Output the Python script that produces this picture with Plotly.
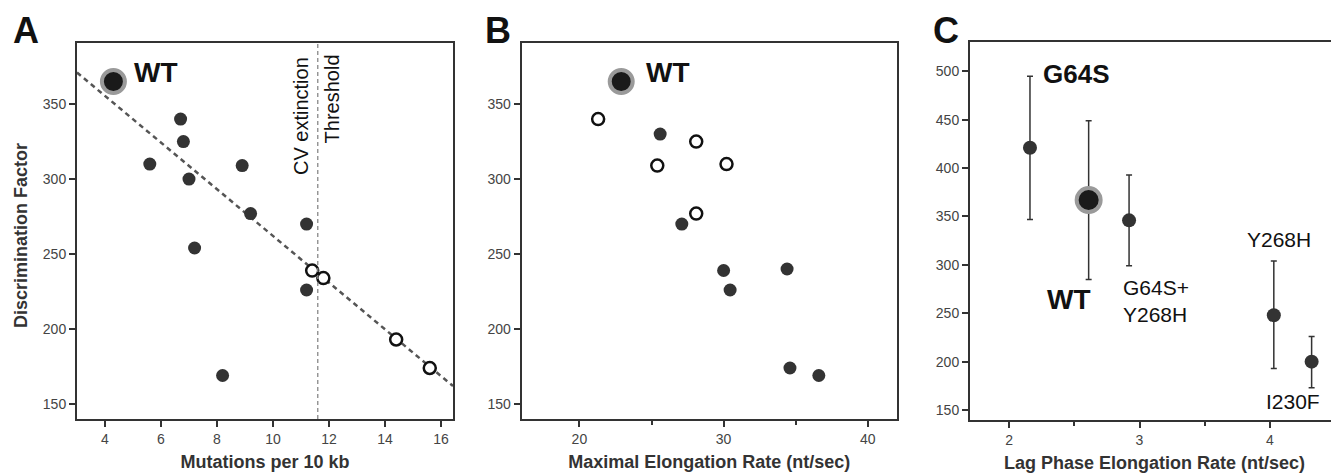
import plotly.graph_objects as go

# Panel A: mutations per 10 kb vs discrimination factor
mut_filled_x = [6.7, 6.8, 5.6, 7.0, 8.9, 9.2, 7.2, 11.2, 11.2, 8.2]
mut_filled_y = [340, 325, 310, 300, 309, 277, 254, 270, 226, 169]
mut_open_x = [11.4, 11.8, 14.4, 15.6]
mut_open_y = [239, 234, 193, 174]
wt_mut = 4.3
wt_df = 365
fit_x = [3.0, 16.43]
fit_y = [371, 162]
threshold = 11.6

# Panel B: maximal elongation rate vs discrimination factor
rate_filled_x = [25.6, 27.1, 30.0, 34.4, 30.45, 34.6, 36.6]
rate_filled_y = [330, 270, 239, 240, 226, 174, 169]
rate_open_x = [21.3, 28.1, 25.4, 30.2, 28.1]
rate_open_y = [340, 325, 309, 310, 277]
wt_rate = 22.9

# Panel C: lag phase elongation rate with error bars
lag_names = ["G64S", "G64S+Y268H", "Y268H", "I230F"]
lag_x = [2.16, 2.92, 4.03, 4.32]
lag_y = [421, 346, 248, 200]
lag_hi = [495, 393, 304, 226]
lag_lo = [347, 299, 193, 173]
wt_lag_x = 2.61
wt_lag_y = 367
wt_lag_hi = 449
wt_lag_lo = 285

FONT = "Liberation Sans, Arial, sans-serif"
# page body has an 8px margin, so the figure is a bit smaller than the window
OFF = 8
W, H = 1339 - OFF, 476 - OFF
DARK = "#333333"


def px(x):  # window x pixel -> paper fraction
    return (x - OFF) / W


def py(y):  # window y pixel -> paper fraction
    return (476 - y) / H


fig = go.Figure()

filled = dict(size=13, color=DARK)
opened = dict(size=12, color="white", line=dict(color="#111111", width=2.5))
wt_marker = dict(size=23, color="#1a1a1a", line=dict(color="#9a9a9a", width=4))

# ---- A
fig.add_trace(go.Scatter(x=fit_x, y=fit_y, mode="lines", xaxis="x", yaxis="y",
                         line=dict(color="#555555", width=2.5, dash="5px,4px")))
fig.add_trace(go.Scatter(x=mut_filled_x, y=mut_filled_y, mode="markers",
                         xaxis="x", yaxis="y", marker=filled))
fig.add_trace(go.Scatter(x=mut_open_x, y=mut_open_y, mode="markers",
                         xaxis="x", yaxis="y", marker=opened))
fig.add_trace(go.Scatter(x=[wt_mut], y=[wt_df], mode="markers",
                         xaxis="x", yaxis="y", marker=wt_marker))
fig.add_shape(type="line", xref="x", yref="y domain", x0=threshold, x1=threshold,
              y0=0, y1=1, line=dict(color="#888888", width=1.3, dash="4px,3px"))

# ---- B
fig.add_trace(go.Scatter(x=rate_filled_x, y=rate_filled_y, mode="markers",
                         xaxis="x2", yaxis="y2", marker=filled))
fig.add_trace(go.Scatter(x=rate_open_x, y=rate_open_y, mode="markers",
                         xaxis="x2", yaxis="y2", marker=opened))
fig.add_trace(go.Scatter(x=[wt_rate], y=[wt_df], mode="markers",
                         xaxis="x2", yaxis="y2", marker=wt_marker))

# ---- C
err = dict(color=DARK, thickness=1.5, width=3)
fig.add_trace(go.Scatter(
    x=lag_x, y=lag_y, mode="markers", xaxis="x3", yaxis="y3",
    marker=dict(size=14, color=DARK),
    error_y=dict(type="data", symmetric=False,
                 array=[h - y for h, y in zip(lag_hi, lag_y)],
                 arrayminus=[y - l for l, y in zip(lag_lo, lag_y)], **err)))
fig.add_trace(go.Scatter(
    x=[wt_lag_x], y=[wt_lag_y], mode="markers", xaxis="x3", yaxis="y3",
    marker=dict(size=24, color="#1a1a1a", line=dict(color="#9a9a9a", width=4)),
    error_y=dict(type="data", symmetric=False, array=[wt_lag_hi - wt_lag_y],
                 arrayminus=[wt_lag_y - wt_lag_lo], **err)))

axis_common = dict(showgrid=False, zeroline=False, showline=True, linecolor=DARK,
                   linewidth=2, ticks="outside", ticklen=6, tickwidth=1.5,
                   tickcolor=DARK, tickfont=dict(size=14, color="#444444", family=FONT))
title_font = dict(size=18, color=DARK, family=FONT, weight="bold")

ydom = [py(419), py(43)]
fig.update_layout(
    width=W, height=H, margin=dict(l=0, r=0, t=0, b=0),
    paper_bgcolor="white", plot_bgcolor="white", showlegend=False,
    font=dict(family=FONT),
    xaxis=dict(axis_common, domain=[px(77), px(453)], range=[3.0, 16.43], dtick=2,
               tick0=0, mirror=True, anchor="y",
               title=dict(text="Mutations per 10 kb", font=title_font, standoff=10)),
    yaxis=dict(axis_common, domain=ydom, range=[140, 390.7], dtick=50, mirror=True,
               anchor="x"),
    xaxis2=dict(axis_common, domain=[px(521.7), px(896.7)], range=[16, 42], dtick=10,
                mirror=True, anchor="y2",
                minor=dict(ticks="outside", dtick=5, ticklen=4, tickcolor=DARK),
                title=dict(text="Maximal Elongation Rate (nt/sec)", font=title_font,
                           standoff=10)),
    yaxis2=dict(axis_common, domain=ydom, range=[140, 390.7], dtick=50, mirror=True,
                anchor="x2"),
    xaxis3=dict(axis_common, domain=[px(970), 1.0], range=[1.70, 4.53], dtick=1,
                mirror=True, anchor="y3",
                minor=dict(ticks="outside", dtick=0.5, ticklen=4, tickcolor=DARK),
                title=dict(text="Lag Phase Elongation Rate (nt/sec)", font=title_font,
                           standoff=10)),
    yaxis3=dict(axis_common, domain=[py(420), py(42.3)], range=[139.7, 530], dtick=50,
                anchor="x3"),
)

# y title of panel A, placed by hand so it sits where the original has it
fig.add_annotation(text="Discrimination Factor", x=px(21), y=py(236),
                   xref="paper", yref="paper", textangle=-90, showarrow=False,
                   xanchor="center", yanchor="middle", font=title_font)


def note(text, x, y, ref="", size=21, bold=False, **kw):
    fig.add_annotation(text=text, x=x, y=y, xref="x" + ref, yref="y" + ref,
                       showarrow=False,
                       font=dict(size=size, color="#111111", family=FONT,
                                 weight="bold" if bold else "normal"), **kw)


note("WT", 4.95, 371, size=28, bold=True, xanchor="left")
note("CV extinction", 11.02, 341.7, size=20, textangle=-90)
note("Threshold", 12.14, 353.7, size=20, textangle=-90)
note("WT", 24.49, 371, ref="2", size=28, bold=True, xanchor="left")
note("G64S", 2.513, 497, ref="3", size=26, bold=True)
note("WT", 2.46, 264, ref="3", size=28, bold=True)
note("G64S+<br>Y268H", 2.86, 263, ref="3", size=21, xanchor="left", align="left")
note("Y268H", 4.073, 326, ref="3", size=21)
note("I230F", 4.176, 158.6, ref="3", size=21)

for letter, lx in [("A", 11), ("B", 483), ("C", 931)]:
    fig.add_annotation(text=letter, x=px(lx), y=py(30.5), xref="paper", yref="paper",
                       xanchor="left", yanchor="middle", showarrow=False,
                       font=dict(size=36, color="#111111", family=FONT, weight="bold"))

fig.write_html("out.html")
